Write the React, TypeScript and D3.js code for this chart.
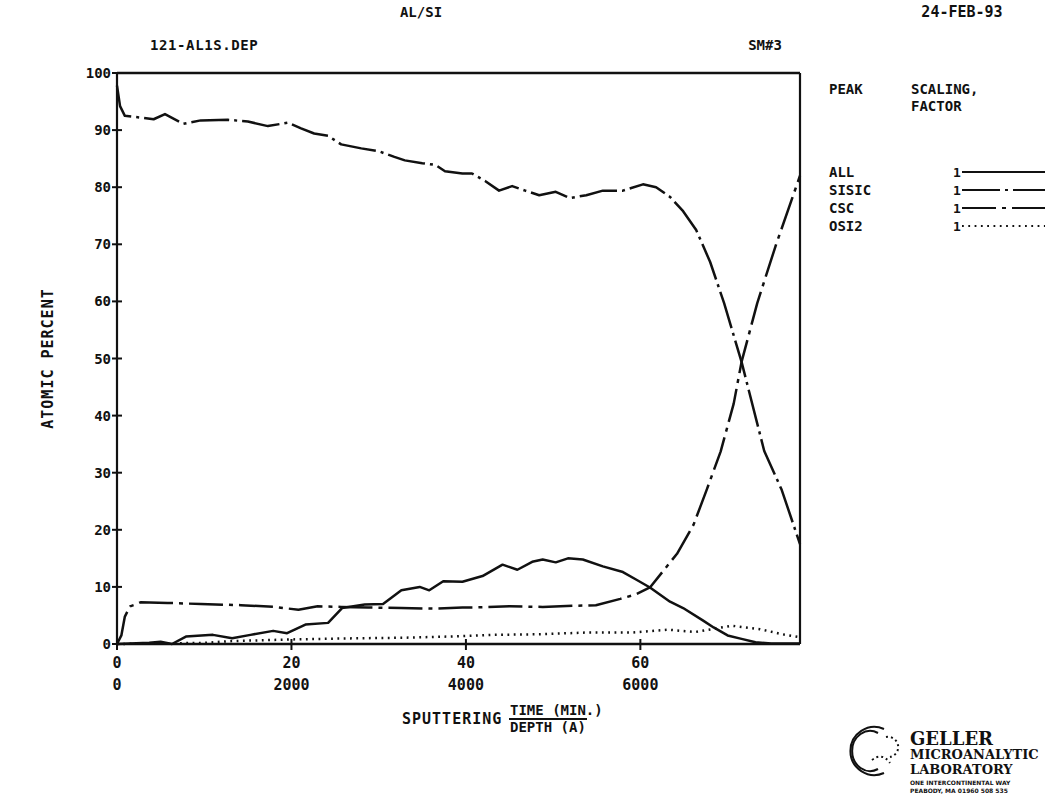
import React from "react";
import * as d3 from "d3";

// ---- data ----
const yTicks = [0, 10, 20, 30, 40, 50, 60, 70, 80, 90, 100];
const xTicks = [0, 20, 40, 60];
const depthLabels = ["0", "2000", "4000", "6000"];

const allT = [0, 3.7, 5, 6.3, 7.9, 11, 13.2, 15.3, 17.9, 19.5, 21.6, 24.2, 25.8, 28.4, 30.5, 32.6, 34.7, 35.8, 37.4, 39.6, 41.9, 44.2, 45.9, 47.6, 48.8, 50.3, 51.7, 53.4, 55.7, 58, 59.5, 61.1, 63.4, 64.9, 67.2, 68.4, 70, 71.6, 73.2, 75, 78.3];
const allV = [0, 0.2, 0.4, 0, 1.3, 1.6, 1.0, 1.6, 2.3, 1.9, 3.4, 3.7, 6.3, 6.9, 7.0, 9.4, 10.0, 9.4, 11.0, 10.9, 11.9, 13.9, 13.0, 14.4, 14.8, 14.3, 15.0, 14.8, 13.6, 12.6, 11.3, 9.9, 7.4, 6.3, 4.1, 2.9, 1.5, 0.9, 0.3, 0.1, 0.1];

const sisicT = [0, 0.35, 0.9, 2.65, 4.2, 5.5, 7.6, 9.6, 12.7, 15, 17.3, 19.6, 21.1, 22.6, 24.2, 25.7, 28, 30, 31.8, 33, 35, 36.5, 37.6, 39.6, 40.7, 42.2, 43.8, 45.3, 46.8, 48.4, 50.3, 51.9, 53.8, 55.7, 58, 60.3, 61.8, 63.4, 64.9, 66.4, 68, 69.6, 71.6, 74.2, 76.2, 78.3];
const sisicV = [97.8, 94.2, 92.5, 92.2, 91.9, 92.8, 91.1, 91.7, 91.8, 91.5, 90.7, 91.3, 90.3, 89.4, 89.0, 87.5, 86.8, 86.3, 85.3, 84.7, 84.2, 83.9, 82.8, 82.4, 82.4, 81.1, 79.4, 80.2, 79.4, 78.6, 79.2, 78.1, 78.6, 79.4, 79.4, 80.5, 80.0, 78.3, 75.8, 72.5, 66.9, 59.7, 49.4, 33.8, 27, 17.5];

const cscT = [0, 0.5, 0.9, 1.5, 2.3, 2.7, 5.8, 9.6, 14.2, 18, 20.8, 23, 25.7, 28.8, 32.6, 36.5, 39.6, 41, 45, 48.8, 52.6, 54.9, 57.7, 59.5, 61.1, 64.2, 66.1, 67.6, 69.2, 70.7, 71.6, 73.4, 75.5, 78.3];
const cscV = [0, 1.5, 4.8, 6.6, 7.0, 7.3, 7.2, 7.0, 6.8, 6.5, 6.0, 6.6, 6.5, 6.4, 6.3, 6.2, 6.4, 6.4, 6.6, 6.5, 6.7, 6.8, 7.9, 8.7, 9.9, 15.8, 20.9, 27, 33.7, 42.1, 49.4, 59.7, 69.7, 82];

const osiT = [0, 10, 13, 20, 27.4, 33, 37.9, 43, 48.4, 53.7, 59, 63.2, 66.3, 70.5, 73.7, 76.3, 78.3];
const osiV = [0, 0.2, 0.5, 0.8, 1.0, 1.1, 1.3, 1.6, 1.7, 2.0, 2.0, 2.5, 2.1, 3.2, 2.6, 1.7, 1.2];

const peaks = ["ALL", "SISIC", "CSC", "OSI2"];
const dashes = ["none", "38,5,3,5", "34,6,4,6", "1.8,4.5"];

const W = 1045, H = 809;
const L = 117, R = 800, T = 73, B = 644;
const FONT = "'DejaVu Sans Mono', monospace";

export default function App() {
  const x = d3.scaleLinear().domain([0, 78.3]).range([L, R]);
  const y = d3.scaleLinear().domain([0, 100]).range([B, T]);
  const line = d3.line<[number, number]>().x((d) => x(d[0])).y((d) => y(d[1]));
  const series = [
    allT.map((t, i) => [t, allV[i]] as [number, number]),
    sisicT.map((t, i) => [t, sisicV[i]] as [number, number]),
    cscT.map((t, i) => [t, cscV[i]] as [number, number]),
    osiT.map((t, i) => [t, osiV[i]] as [number, number]),
  ];
  const txt = { fontFamily: FONT, fontWeight: 700, fill: "#111" } as const;
  const legY = [177, 195, 213, 231];
  const serif = "'DejaVu Serif', serif";
  return (
    <div style={{ position: "fixed", left: 0, top: 0, width: W, height: H, background: "#fff" }}>
      <svg width={W} height={H} viewBox={`0 0 ${W} ${H}`}>
        <rect width={W} height={H} fill="#fff" />
        {/* header */}
        <text x={421} y={17} textAnchor="middle" fontSize={14} style={txt}>AL/SI</text>
        <text x={962} y={17} textAnchor="middle" fontSize={15} style={txt}>24-FEB-93</text>
        <text x={150} y={50} fontSize={14} style={txt} letterSpacing={0.6}>121-AL1S.DEP</text>
        <text x={765} y={50} textAnchor="middle" fontSize={14} style={txt}>SM#3</text>
        {/* frame */}
        <g stroke="#111" fill="none">
          <line x1={L} y1={T} x2={R} y2={T} strokeWidth={2.6} />
          <line x1={L} y1={T} x2={L} y2={B} strokeWidth={2.2} />
          <line x1={R} y1={T} x2={R} y2={B} strokeWidth={2.2} />
          <line x1={L} y1={B} x2={R} y2={B} strokeWidth={2.6} />
        </g>
        {/* y ticks */}
        {yTicks.map((v) => (
          <g key={"y" + v}>
            <line x1={L - 5} x2={L + 5} y1={y(v)} y2={y(v)} stroke="#111" strokeWidth={2} />
            <text x={L - 6} y={y(v) + 5} textAnchor="end" fontSize={14} style={txt}>{v}</text>
          </g>
        ))}
        {/* x ticks */}
        {xTicks.map((v, i) => (
          <g key={"x" + v}>
            <line x1={x(v)} x2={x(v)} y1={B - 5} y2={B + 6} stroke="#111" strokeWidth={2} />
            <text x={x(v)} y={B + 24} textAnchor="middle" fontSize={15} style={txt}>{v}</text>
            <text x={x(v)} y={B + 46} textAnchor="middle" fontSize={15} style={txt}>{depthLabels[i]}</text>
          </g>
        ))}
        <text transform={`translate(53,${y(50)}) rotate(-90)`} textAnchor="middle" fontSize={15} style={txt} letterSpacing={1}>ATOMIC PERCENT</text>
        <text x={402} y={724} fontSize={15} style={txt} letterSpacing={1}>SPUTTERING</text>
        <text x={510} y={715} fontSize={14} style={txt}>TIME (MIN.)</text>
        <line x1={509} x2={587} y1={719} y2={719} stroke="#111" strokeWidth={2.2} />
        <text x={510} y={732} fontSize={14} style={txt}>DEPTH  (A)</text>
        {/* series */}
        {series.map((s, i) => (
          <path key={peaks[i]} d={line(s) || ""} fill="none" stroke="#111" strokeWidth={2.5}
            strokeDasharray={dashes[i]} strokeLinejoin="round" />
        ))}
        {/* legend */}
        <text x={829} y={94} fontSize={14} style={txt}>PEAK</text>
        <text x={911} y={94} fontSize={14} style={txt}>SCALING,</text>
        <text x={911} y={111} fontSize={14} style={txt}>FACTOR</text>
        {peaks.map((p, i) => (
          <g key={"leg" + p}>
            <text x={829} y={legY[i]} fontSize={14} style={txt}>{p}</text>
            <text x={953} y={legY[i]} fontSize={13} style={txt}>1</text>
            <line x1={962} x2={1045} y1={legY[i] - 5} y2={legY[i] - 5} stroke="#111" strokeWidth={2}
              strokeDasharray={dashes[i]} />
          </g>
        ))}
        {/* logo */}
        <g stroke="#111" fill="none" strokeWidth={2}>
          <path d="M 884 729 A 24 24 0 1 0 884 773" />
          <path d="M 878 733 A 18 20 0 1 0 878 769" />
          <path d="M 886 737 A 10 10 0 0 1 890 757" strokeDasharray="2,3" />
          <path d="M 872 760 Q 882 752 890 763" strokeDasharray="2,3" />
        </g>
        <text x={910} y={745} fontSize={18} fontFamily={serif} fontWeight={700} fill="#111">GELLER</text>
        <text x={910} y={759} fontSize={13} fontFamily={serif} fontWeight={700} fill="#111">MICROANALYTIC</text>
        <text x={910} y={774} fontSize={13} fontFamily={serif} fontWeight={700} fill="#111">LABORATORY</text>
        <text x={910} y={785} fontSize={6} fontFamily="'DejaVu Sans', sans-serif" fontWeight={700} fill="#111">ONE INTERCONTINENTAL WAY</text>
        <text x={910} y={793} fontSize={6} fontFamily="'DejaVu Sans', sans-serif" fontWeight={700} fill="#111">PEABODY, MA 01960  508 535</text>
      </svg>
    </div>
  );
}
